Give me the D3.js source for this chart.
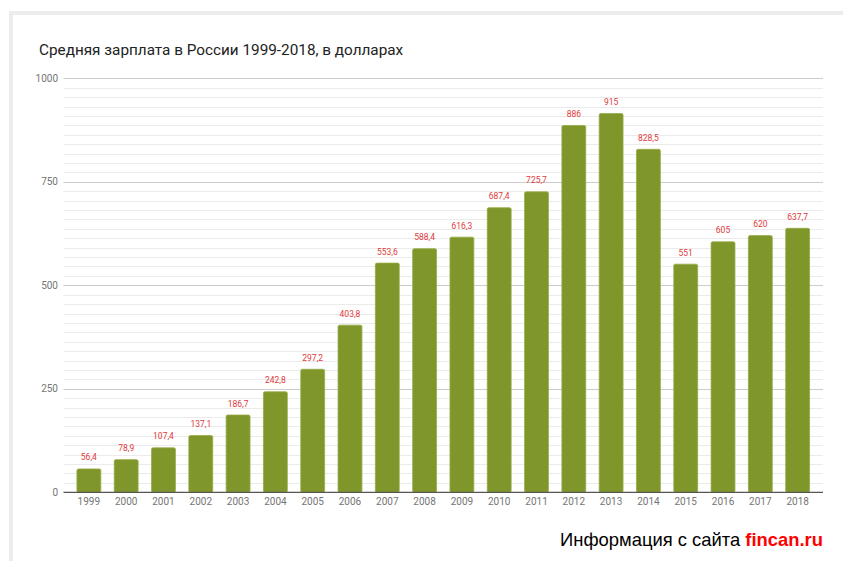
<!DOCTYPE html>
<html><head><meta charset="utf-8">
<script src="https://cdn.jsdelivr.net/npm/d3@7"></script>
<style>body{margin:0;background:#fff}svg{display:block}</style>
</head><body>
<svg id="c" width="843" height="561"></svg>
<script>
const years = ["1999","2000","2001","2002","2003","2004","2005","2006","2007","2008","2009","2010","2011","2012","2013","2014","2015","2016","2017","2018"];
const salary = [56.4,78.9,107.4,137.1,186.7,242.8,297.2,403.8,553.6,588.4,616.3,687.4,725.7,886,915,828.5,551,605,620,637.7];
const yTicks = [0,250,500,750,1000];
const title = "Средняя зарплата в России 1999-2018, в долларах";

const svg = d3.select("#c");
// frame
svg.append("rect").attr("x",9).attr("y",11).attr("width",834).attr("height",4).attr("fill","#ececec");
svg.append("rect").attr("x",9).attr("y",11).attr("width",4).attr("height",550).attr("fill","#ececec");

const x = d3.scaleBand().domain(years).range([63.5,823]).padding(0.36);
const y = d3.scaleLinear().domain([0,1000]).range([492.3,78.3]);

// minor gridlines
const minor = [];
for(let i=0;i<4;i++) for(let k=1;k<11;k++) minor.push(i*250 + 250*k/11);
svg.append("g").selectAll("line").data(minor).join("line")
  .attr("x1",63.5).attr("x2",823).attr("y1",d=>Math.round(y(d))+0.5).attr("y2",d=>Math.round(y(d))+0.5)
  .attr("stroke","#ebebeb").attr("stroke-width",1);
svg.append("g").selectAll("line").data(yTicks.slice(1)).join("line")
  .attr("x1",63.5).attr("x2",823).attr("y1",d=>Math.round(y(d))+0.5).attr("y2",d=>Math.round(y(d))+0.5)
  .attr("stroke","#cccccc").attr("stroke-width",1);

// y labels
svg.append("g").selectAll("text").data(yTicks).join("text")
  .attr("x",58).attr("y",d=>y(d)+3.5).attr("text-anchor","end")
  .attr("font-family","Roboto").attr("font-size",10).attr("fill","#757575").text(d=>d);

// bars
svg.append("g").selectAll("rect").data(salary).join("rect")
  .attr("x",(d,i)=>x(years[i])).attr("width",x.bandwidth())
  .attr("y",d=>y(d)).attr("height",d=>y(0)-y(d))
  .attr("rx",1.5).attr("fill","#7f962a").attr("stroke","#96ab45").attr("stroke-width",0.8);

// value labels
svg.append("g").selectAll("text").data(salary).join("text")
  .attr("x",(d,i)=>x(years[i])+x.bandwidth()/2).attr("y",d=>y(d)-8.5)
  .attr("text-anchor","middle").attr("font-family","Roboto").attr("font-size",8.5).attr("fill","#e03a3a")
  .text(d=>String(d).replace(".",","));

// baseline
svg.append("line").attr("x1",63.5).attr("x2",823).attr("y1",y(0)).attr("y2",y(0)).attr("stroke","#555").attr("stroke-width",1.3);

// x labels
svg.append("g").selectAll("text").data(years).join("text")
  .attr("x",d=>x(d)+x.bandwidth()/2).attr("y",505).attr("text-anchor","middle")
  .attr("font-family","Roboto").attr("font-size",10).attr("fill","#757575").text(d=>d);

// title
svg.append("text").attr("x",39).attr("y",55).attr("font-family","Roboto").attr("font-size",15.3).attr("fill","#222").text(title);

// watermark
const wm = svg.append("text").attr("x",823).attr("y",546).attr("text-anchor","end")
  .attr("font-family","Liberation Sans, Arial").attr("font-size",18.4).attr("fill","#000");
wm.append("tspan").text("Информация с сайта ");
wm.append("tspan").attr("fill","#ff0000").attr("font-weight","bold").text("fincan.ru");
</script>
</body></html>
